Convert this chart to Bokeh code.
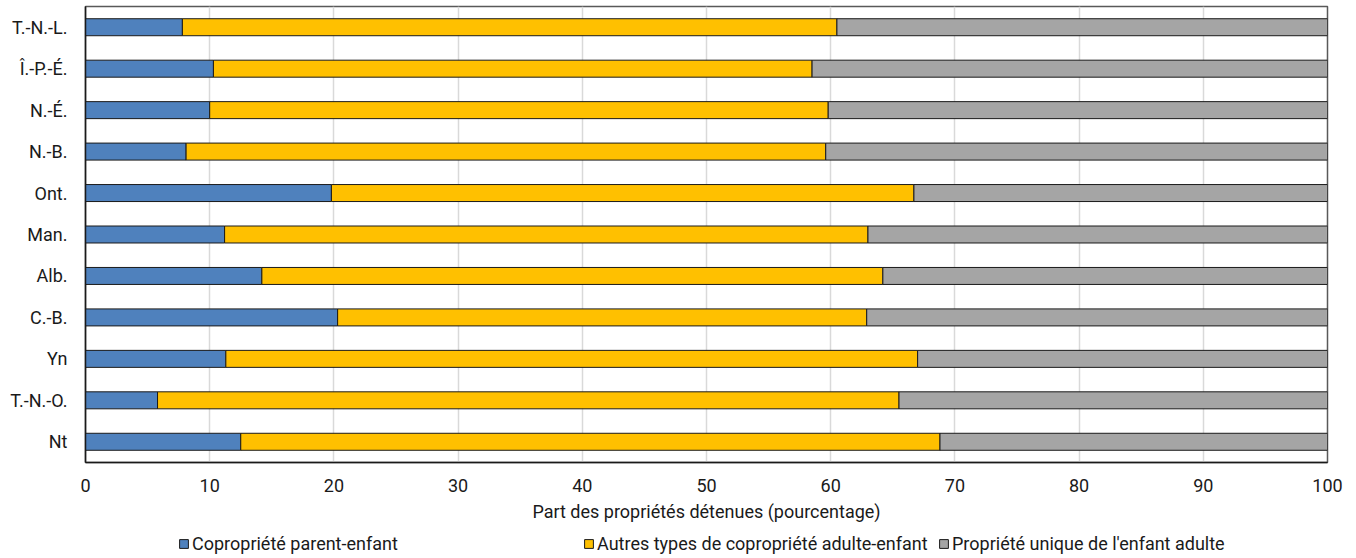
from bokeh.plotting import figure
from bokeh.layouts import column
from bokeh.models import Legend, LegendItem, FactorRange, SingleIntervalTicker
from bokeh.embed import file_html
from bokeh.resources import INLINE

regions = ["T.-N.-L.", "Î.-P.-É.", "N.-É.", "N.-B.", "Ont.", "Man.", "Alb.", "C.-B.", "Yn", "T.-N.-O.", "Nt"]
parent_enfant = [7.8, 10.3, 10.0, 8.1, 19.8, 11.2, 14.2, 20.3, 11.3, 5.8, 12.5]
cumul_copropriete = [60.5, 58.5, 59.8, 59.6, 66.7, 63.0, 64.2, 62.9, 67.0, 65.5, 68.8]
autres_copropriete = [round(c - p, 1) for c, p in zip(cumul_copropriete, parent_enfant)]
unique_enfant = [round(100 - c, 1) for c in cumul_copropriete]

series = ["parent", "autres", "unique"]
labels = ["Copropriété parent-enfant", "Autres types de copropriété adulte-enfant", "Propriété unique de l'enfant adulte"]
colors = ["#4F81BD", "#FFC000", "#A5A5A5"]

FONT = "Roboto"
FS = "18px"
TXT = "#1a1a1a"

data = dict(region=regions, parent=parent_enfant, autres=autres_copropriete, unique=unique_enfant)

p = figure(width=1356, height=530, y_range=FactorRange(*list(reversed(regions))),
           x_range=(0, 100), output_backend="svg", toolbar_location=None,
           min_border_left=85, min_border_right=29, min_border_top=6, min_border_bottom=68)

renderers = p.hbar_stack(series, y="region", height=0.41, color=colors, source=data,
                         line_color="#1a1a1a", line_width=1)

p.xaxis.ticker = SingleIntervalTicker(interval=10)
p.xaxis.axis_label = "Part des propriétés détenues (pourcentage)"
p.xaxis.axis_label_text_font = FONT
p.xaxis.axis_label_text_font_style = "normal"
p.xaxis.axis_label_text_font_size = FS
p.xaxis.axis_label_text_color = TXT
p.xaxis.axis_label_standoff = 6
for ax in (p.xaxis, p.yaxis):
    ax.major_label_text_font = FONT
    ax.major_label_text_font_size = FS
    ax.major_label_text_color = TXT
    ax.major_tick_line_color = None
    ax.minor_tick_line_color = None
    ax.axis_line_color = "#1a1a1a"
    ax.axis_line_width = 1.5
p.xaxis.major_label_standoff = 10
p.yaxis.major_label_standoff = 12

p.xgrid.grid_line_color = "#d9d9d9"
p.xgrid.grid_line_width = 1.5
p.ygrid.grid_line_color = None
p.outline_line_color = "#595959"
p.outline_line_width = 1.5
p.y_range.range_padding = 0

# legend strip below the chart (its frame is aligned with the chart frame by the column layout)
lg = figure(width=1356, height=28, x_range=(0, 1), y_range=(0, 1),
            output_backend="svg", toolbar_location=None,
            min_border=0, min_border_left=0, min_border_right=0, min_border_top=0, min_border_bottom=0)
lg.axis.visible = False
lg.grid.visible = False
lg.outline_line_color = None

offsets = [93, 498, 853]
for col, lab, x in zip(colors, labels, offsets):
    r = lg.vbar(x=[-5], top=[-5], bottom=[-6], width=0.1, fill_color=col, line_color="#1a1a1a", line_width=1)
    leg = Legend(items=[LegendItem(label=lab, renderers=[r])], location=(x, 4),
                 padding=0, margin=0, border_line_color=None, background_fill_alpha=0,
                 glyph_width=11, glyph_height=11, label_standoff=3,
                 label_text_font=FONT, label_text_font_size=FS, label_text_color=TXT,
                 label_height=20)
    lg.add_layout(leg, "center")

layout = column(p, lg, spacing=0)
open("out.html", "w").write(file_html(layout, INLINE))
